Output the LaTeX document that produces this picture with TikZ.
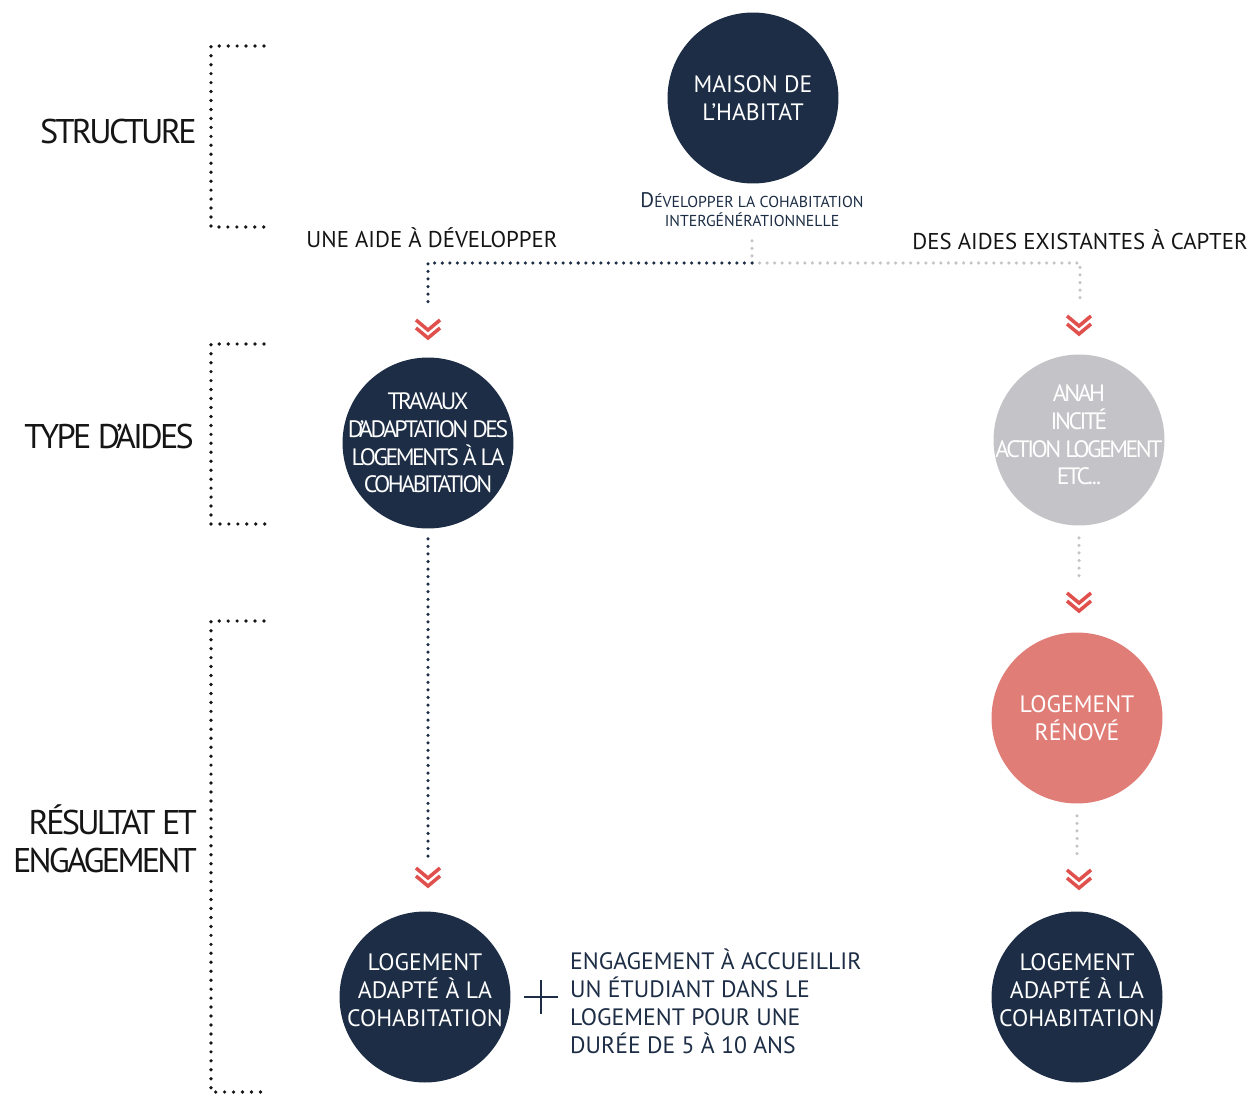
\documentclass[tikz,border=0pt]{standalone}
\usepackage{fontspec}
\setmainfont{PT Sans}
\usepackage{xcolor}
\usepackage{tikz}
\usetikzlibrary{calc}
\definecolor{DeepNavy}{HTML}{1C2D45}
\definecolor{MistGrey}{HTML}{C4C4C8}
\definecolor{SoftCoral}{HTML}{E07D77}
\definecolor{ChevronRed}{HTML}{E0504D}
\definecolor{InkBlack}{HTML}{151515}

\tikzset{
  bubble/.style={circle, minimum size=3.42cm, inner sep=-12pt, align=center,
                 text=white, font=\fontsize{13.5}{16}\selectfont},
  tight/.style={font=\fontsize{13.5}{15.8}\selectfont\addfontfeature{LetterSpace=-10.5}},
  tier/.style={align=right, text=InkBlack,
               font=\fontsize{19.5}{21.5}\selectfont\addfontfeature{LetterSpace=-8}},
  bracketline/.style={InkBlack, line width=2.1pt, dash pattern=on 0pt off 5.1pt, line cap=round},
  navylink/.style={DeepNavy, line width=2pt, dash pattern=on 0pt off 4.3pt, line cap=round},
  greylink/.style={MistGrey, line width=2pt, dash pattern=on 0pt off 4.3pt, line cap=round},
  branchlabel/.style={anchor=base, text=InkBlack, font=\fontsize{13}{15}\selectfont},
  chev/.pic={\draw[ChevronRed, line width=2pt]
               (-12,-10) -- (0,0) -- (12,-10) (-12,-2) -- (0,8) -- (12,-2);}
}

\begin{document}
\begin{tikzpicture}[x=0.02cm, y=-0.02cm]
  \useasboundingbox (0,0) rectangle (1256,1095);

  % tier labels and brackets
  \node[tier, anchor=base east] (lblstructure) at (203,143) {STRUCTURE};
  \node[tier, anchor=base east] (lbltype) at (200,448) {TYPE D’AIDES};
  \node[tier, anchor=east] (lblresult) at (203,839) {RÉSULTAT ET\\ENGAGEMENT};
  \foreach \top/\bot in {46/227, 344/524, 621/1092}
    \draw[bracketline] (264,\top) -- (211,\top) -- (211,\bot) -- (266,\bot);

  % bubbles
  \node[bubble, fill=DeepNavy] (maison) at (753,98) {MAISON DE\\L’HABITAT};
  \node[anchor=north, align=center, text=DeepNavy,
        font=\fontsize{9}{11}\selectfont] (mission) at (752,186)
    {{\fontsize{12}{11}\selectfont D}ÉVELOPPER LA COHABITATION\\INTERGÉNÉRATIONNELLE};
  \node[bubble, fill=DeepNavy, tight] (travaux) at (428,443)
    {TRAVAUX\\D’ADAPTATION DES\\LOGEMENTS À LA\\COHABITATION};
  \node[bubble, fill=MistGrey, tight] (anah) at (1079,440)
    {ANAH\\INCITÉ\\ACTION LOGEMENT\\ETC...\\[-10pt]\mbox{}};
  \node[bubble, fill=SoftCoral] (renove) at (1077,718) {LOGEMENT\\RÉNOVÉ};
  \node[bubble, fill=DeepNavy] (adapteL) at (425,997)
    {LOGEMENT\\ADAPTÉ À LA\\COHABITATION\\[-8pt]\mbox{}};
  \node[bubble, fill=DeepNavy] (adapteR) at (1077,997)
    {LOGEMENT\\ADAPTÉ À LA\\COHABITATION\\[-8pt]\mbox{}};

  % branch labels
  \node[branchlabel] (newaid) at (432,247) {UNE AIDE À DÉVELOPPER};
  \node[branchlabel] (oldaid) at (1080,249) {DES AIDES EXISTANTES À CAPTER};

  % links
  \coordinate (split) at (752,263);
  \coordinate (endL) at (428,305);
  \coordinate (endR) at (1080,303);
  \draw[greylink] (mission.south) ++(0,8) -- (split);
  \draw[greylink] (split) -| (endR);
  \draw[navylink] (split) -| (endL);
  \draw[navylink] (travaux.south) ++(0,10) -- ++(0,318);
  \draw[greylink] (anah.south) ++(0,12) -- ++(0,42);
  \draw[greylink] (renove.south) ++(0,12) -- ++(0,42);

  % chevrons
  \foreach \px/\py in {428/330, 1079/326, 1079/603, 428/878, 1079/880}
    \pic at (\px,\py) {chev};

  % commitment
  \coordinate (plus) at (541,997);
  \draw[DeepNavy, line width=0.9pt] ($(plus)+(-17,0)$) -- ($(plus)+(17,0)$)
                                    ($(plus)+(0,-17)$) -- ($(plus)+(0,17)$);
  \node[anchor=west, align=left, text=DeepNavy,
        font=\fontsize{13.5}{16}\selectfont] (pledge) at (564,1001)
    {ENGAGEMENT À ACCUEILLIR\\UN ÉTUDIANT DANS LE\\LOGEMENT POUR UNE\\DURÉE DE 5 À 10 ANS};
\end{tikzpicture}
\end{document}
